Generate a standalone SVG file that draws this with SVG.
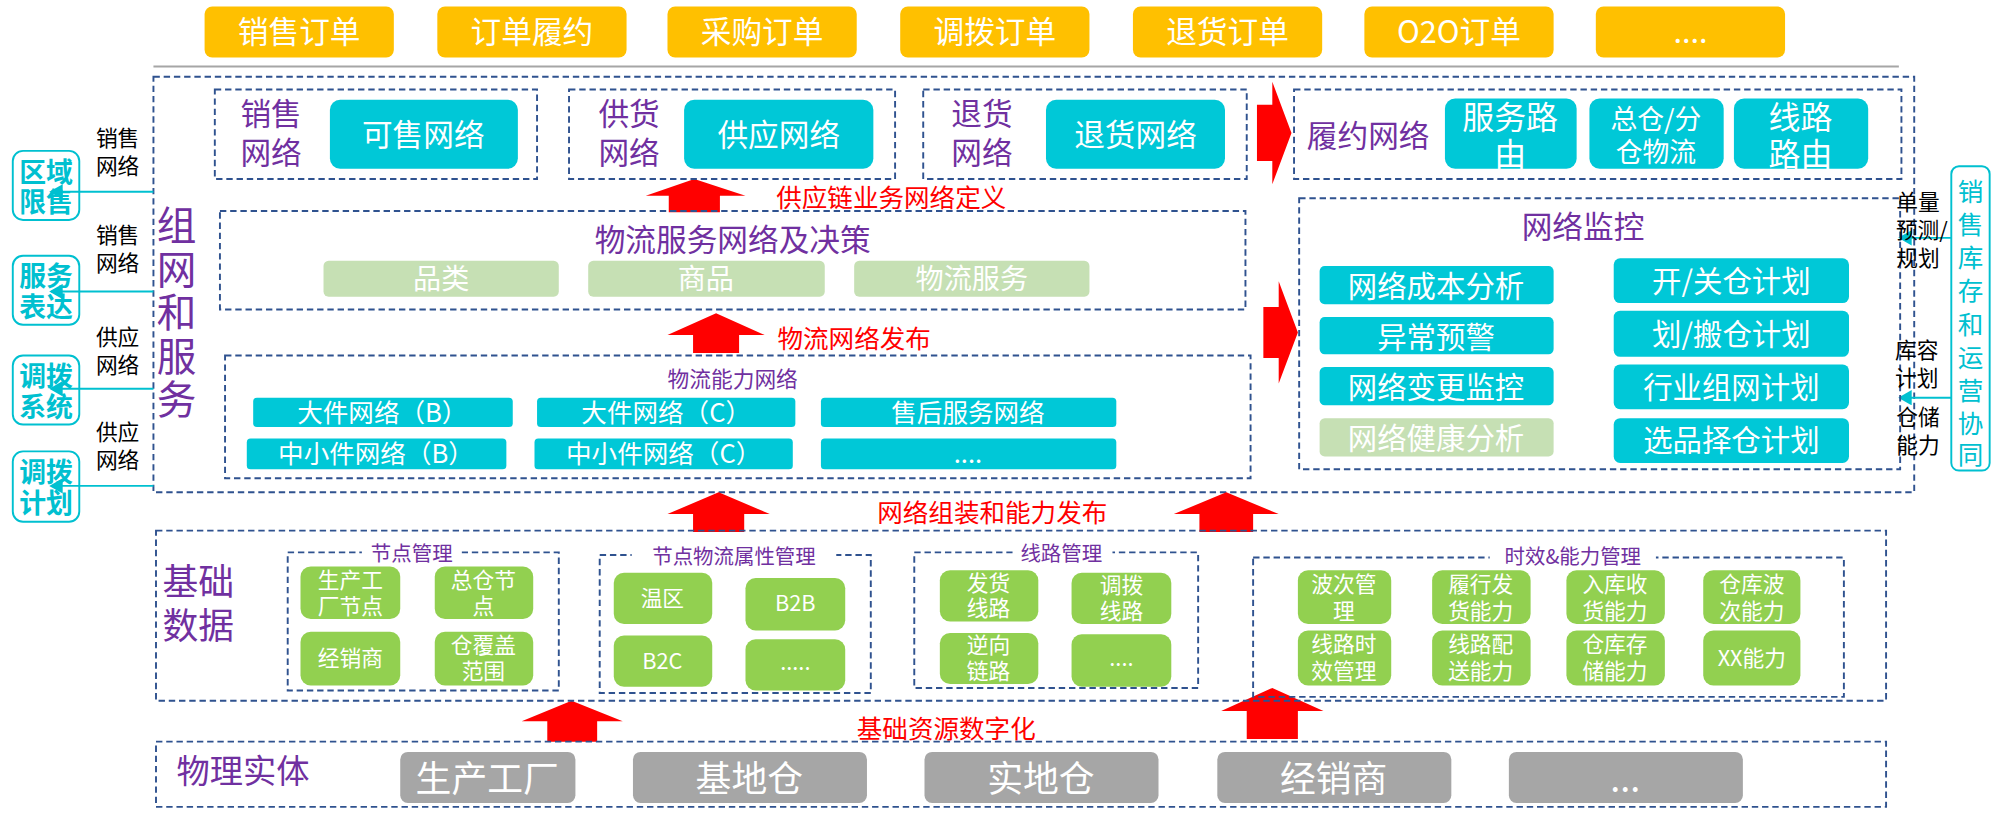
<svg xmlns="http://www.w3.org/2000/svg" width="2005" height="829" viewBox="0 0 2005 829">
<style>
text{font-family:"Noto Sans CJK SC","Liberation Sans",sans-serif;text-anchor:middle}
.d{fill:none;stroke:#2F528F;stroke-width:1.5;stroke-dasharray:5 3}
.o{fill:#FFC000}.c{fill:#00C8D7}.lg{fill:#C6E0B4}.g{fill:#92D050}.gr{fill:#A6A6A6}
.w{fill:#fff}.p{fill:#7030A0}.r{fill:#FF0000}.k{fill:#000}.cy{fill:#00C0D0;font-weight:bold}
.cv{fill:#00C0D0}
.ar{fill:#FF0000}
.cl{stroke:#00C0D0;stroke-width:1.5;fill:none}
</style>
<defs><marker id="m" markerWidth="8" markerHeight="8" refX="6" refY="4" orient="auto"><path d="M0,0L7,4L0,8z" fill="#00C0D0"/></marker></defs>
<g transform="scale(1.2787)">
<g id="orders" font-size="24">
<rect class="o" x="160" y="5" width="148" height="40" rx="6"/><text class="w" x="234" y="34">销售订单</text>
<rect class="o" x="342" y="5" width="148" height="40" rx="6"/><text class="w" x="416" y="34">订单履约</text>
<rect class="o" x="522" y="5" width="148" height="40" rx="6"/><text class="w" x="596" y="34">采购订单</text>
<rect class="o" x="704" y="5" width="148" height="40" rx="6"/><text class="w" x="778" y="34">调拨订单</text>
<rect class="o" x="886" y="5" width="148" height="40" rx="6"/><text class="w" x="960" y="34">退货订单</text>
<rect class="o" x="1067" y="5" width="148" height="40" rx="6"/><text class="w" x="1141" y="34">O2O订单</text>
<rect class="o" x="1248" y="5" width="148" height="40" rx="6"/><text class="w" x="1322" y="34">....</text>
</g>
<line x1="120" y1="52" x2="1485" y2="52" stroke="#A6A6A6" stroke-width="1.5"/>
<g id="zuwang">
<rect class="d" x="120" y="60" width="1377" height="325"/>
<g class="p" font-size="31"><text x="138" y="188">组</text><text x="138" y="222">网</text><text x="138" y="256">和</text><text x="138" y="290">服</text><text x="138" y="324">务</text></g>
</g>
<g id="left" font-size="17">
<g class="k"><text x="92" y="114">销售</text><text x="92" y="136">网络</text>
<text x="92" y="190">销售</text><text x="92" y="212">网络</text>
<text x="92" y="270">供应</text><text x="92" y="292">网络</text>
<text x="92" y="344">供应</text><text x="92" y="366">网络</text></g>
<g font-size="21">
<rect class="cl" x="10" y="118" width="52" height="54" rx="8"/><text class="cy" x="36" y="142">区域</text><text class="cy" x="36" y="166">限售</text>
<rect class="cl" x="10" y="200" width="52" height="54" rx="8"/><text class="cy" x="36" y="224">服务</text><text class="cy" x="36" y="248">表达</text>
<rect class="cl" x="10" y="278" width="52" height="54" rx="8"/><text class="cy" x="36" y="302">调拨</text><text class="cy" x="36" y="326">系统</text>
<rect class="cl" x="10" y="353" width="52" height="55" rx="8"/><text class="cy" x="36" y="377">调拨</text><text class="cy" x="36" y="401">计划</text>
</g>
</g>
<g id="connectors">
<line class="cl" x1="120" y1="150" x2="40" y2="150" marker-end="url(#m)"/>
<line class="cl" x1="120" y1="228" x2="40" y2="228" marker-end="url(#m)"/>
<line class="cl" x1="120" y1="304" x2="40" y2="304" marker-end="url(#m)"/>
<line class="cl" x1="120" y1="380" x2="40" y2="380" marker-end="url(#m)"/>
<line class="cl" x1="1526" y1="186" x2="1486" y2="186" marker-end="url(#m)"/>
<line class="cl" x1="1526" y1="311" x2="1486" y2="311" marker-end="url(#m)"/>
<polygon class="ar" points="983,82 995,82 995,64 1010,104 995,144 995,126 983,126"/>
<polygon class="ar" points="988,240 1000,240 1000,220 1015,260 1000,300 1000,280 988,280"/>
<polygon class="ar" points="505,153 543,140 583,153 563,153 563,166 523,166 523,153"/>
<polygon class="ar" points="522,262 560,245 598,262 578,262 578,276 542,276 542,262"/>
<polygon class="ar" points="522,402 562,385 602,402 582,402 582,416 542,416 542,402"/>
<polygon class="ar" points="918,402 959,385 1000,402 980,402 980,416 938,416 938,402"/>
<polygon class="ar" points="408,564 447,548 487,564 467,564 467,580 428,580 428,564"/>
<polygon class="ar" points="955,556 995,538 1035,556 1015,556 1015,578 975,578 975,556"/>
<g class="r" font-size="20"><text x="697" y="162">供应链业务网络定义</text><text x="668" y="272">物流网络发布</text><text x="776" y="408">网络组装和能力发布</text><text x="740" y="577">基础资源数字化</text></g>
</g>
<g id="sales" font-size="24">
<rect class="d" x="168" y="70" width="252" height="70"/>
<text class="p" x="212" y="98">销售</text><text class="p" x="212" y="128">网络</text>
<rect class="c" x="258" y="78" width="147" height="54" rx="8"/><text class="w" x="331" y="114">可售网络</text>
</g>
<g id="supply" font-size="24">
<rect class="d" x="445" y="70" width="255" height="70"/>
<text class="p" x="492" y="98">供货</text><text class="p" x="492" y="128">网络</text>
<rect class="c" x="535" y="78" width="148" height="54" rx="8"/><text class="w" x="609" y="114">供应网络</text>
</g>
<g id="return" font-size="24">
<rect class="d" x="722" y="70" width="253" height="70"/>
<text class="p" x="768" y="98">退货</text><text class="p" x="768" y="128">网络</text>
<rect class="c" x="818" y="78" width="140" height="54" rx="8"/><text class="w" x="888" y="114">退货网络</text>
</g>
<g id="lvyue">
<rect class="d" x="1012" y="70" width="475" height="70"/>
<text class="p" x="1070" y="115" font-size="24">履约网络</text>
<rect class="c" x="1130" y="77" width="103" height="55" rx="8"/><text class="w" x="1181" y="101" font-size="25">服务路</text><text class="w" x="1181" y="130" font-size="25">由</text>
<rect class="c" x="1243" y="77" width="105" height="55" rx="8"/><text class="w" x="1295" y="101" font-size="21">总仓/分</text><text class="w" x="1295" y="127" font-size="21">仓物流</text>
<rect class="c" x="1356" y="77" width="105" height="55" rx="8"/><text class="w" x="1408" y="101" font-size="25">线路</text><text class="w" x="1408" y="130" font-size="25">路由</text>
</g>
<g id="wuliufuwu">
<rect class="d" x="172" y="165" width="802" height="77"/>
<text class="p" x="573" y="196" font-size="24">物流服务网络及决策</text>
<rect class="lg" x="253" y="204" width="184" height="28" rx="4"/><text class="w" x="345" y="226" font-size="22">品类</text>
<rect class="lg" x="460" y="204" width="185" height="28" rx="4"/><text class="w" x="552" y="226" font-size="22">商品</text>
<rect class="lg" x="668" y="204" width="184" height="28" rx="4"/><text class="w" x="760" y="226" font-size="22">物流服务</text>
</g>
<g id="nengli" font-size="20">
<rect class="d" x="176" y="278" width="802" height="96"/>
<text class="p" x="573" y="303" font-size="17">物流能力网络</text>
<rect class="c" x="198" y="311" width="203" height="23" rx="3"/><text class="w" x="299" y="330">大件网络（B）</text>
<rect class="c" x="420" y="311" width="202" height="23" rx="3"/><text class="w" x="521" y="330">大件网络（C）</text>
<rect class="c" x="642" y="311" width="231" height="23" rx="3"/><text class="w" x="757" y="330">售后服务网络</text>
<rect class="c" x="193" y="343" width="203" height="24" rx="3"/><text class="w" x="294" y="362">中小件网络（B）</text>
<rect class="c" x="418" y="343" width="202" height="24" rx="3"/><text class="w" x="519" y="362">中小件网络（C）</text>
<rect class="c" x="642" y="343" width="231" height="24" rx="3"/><text class="w" x="757" y="362">....</text>
</g>
<g id="jiankong" font-size="23">
<rect class="d" x="1016" y="155" width="470" height="212"/>
<text class="p" x="1238" y="186" font-size="24">网络监控</text>
<rect class="c" x="1032" y="208" width="183" height="30" rx="4"/><text class="w" x="1123" y="232">网络成本分析</text>
<rect class="c" x="1032" y="248" width="183" height="29" rx="4"/><text class="w" x="1123" y="272">异常预警</text>
<rect class="c" x="1032" y="287" width="183" height="30" rx="4"/><text class="w" x="1123" y="311">网络变更监控</text>
<rect class="lg" x="1032" y="327" width="183" height="30" rx="4"/><text class="w" x="1123" y="351">网络健康分析</text>
<rect class="c" x="1262" y="202" width="184" height="35" rx="5"/><text class="w" x="1354" y="228">开/关仓计划</text>
<rect class="c" x="1262" y="243" width="184" height="36" rx="5"/><text class="w" x="1354" y="270">划/搬仓计划</text>
<rect class="c" x="1262" y="285" width="184" height="35" rx="5"/><text class="w" x="1354" y="311">行业组网计划</text>
<rect class="c" x="1262" y="327" width="184" height="35" rx="5"/><text class="w" x="1354" y="353">选品择仓计划</text>
</g>
<g id="right" font-size="17" class="k">
<text x="1500" y="164">单量</text><text x="1503" y="186">预测/</text><text x="1500" y="208">规划</text>
<text x="1499" y="280">库容</text><text x="1499" y="302">计划</text>
<text x="1500" y="332">仓储</text><text x="1500" y="354">能力</text>
<rect class="cl" x="1526" y="130" width="30" height="238" rx="6"/>
<g class="cv" font-size="20"><text x="1541" y="157">销</text><text x="1541" y="183">售</text><text x="1541" y="209">库</text><text x="1541" y="235">存</text><text x="1541" y="261">和</text><text x="1541" y="287">运</text><text x="1541" y="313">营</text><text x="1541" y="339">协</text><text x="1541" y="363">同</text></g>
</g>
<g id="jichu" font-size="17">
<rect class="d" x="122" y="415" width="1353" height="133"/>
<text class="p" x="155" y="465" font-size="28">基础</text><text class="p" x="155" y="500" font-size="28">数据</text>
<rect class="d" x="225" y="432" width="212" height="108"/><rect x="283" y="428" width="78" height="12" fill="#fff"/><text class="p" x="322" y="439" font-size="16">节点管理</text>
<rect class="g" x="235" y="443" width="78" height="41" rx="8"/><text class="w" x="274" y="460">生产工</text><text class="w" x="274" y="480">厂节点</text>
<rect class="g" x="340" y="443" width="77" height="41" rx="8"/><text class="w" x="378" y="460">总仓节</text><text class="w" x="378" y="480">点</text>
<rect class="g" x="235" y="494" width="78" height="42" rx="8"/><text class="w" x="274" y="521">经销商</text>
<rect class="g" x="340" y="494" width="77" height="42" rx="8"/><text class="w" x="378" y="511">仓覆盖</text><text class="w" x="378" y="531">范围</text>
<rect class="d" x="469" y="434" width="212" height="108"/><rect x="494" y="428" width="160" height="12" fill="#fff"/><text class="p" x="574" y="441" font-size="16">节点物流属性管理</text>
<rect class="g" x="480" y="448" width="77" height="40" rx="8"/><text class="w" x="518" y="474">温区</text>
<rect class="g" x="583" y="452" width="78" height="41" rx="8"/><text class="w" x="622" y="478">B2B</text>
<rect class="g" x="480" y="497" width="77" height="40" rx="8"/><text class="w" x="518" y="523">B2C</text>
<rect class="g" x="583" y="500" width="78" height="40" rx="8"/><text class="w" x="622" y="524">.....</text>
<rect class="d" x="715" y="432" width="222" height="106"/><rect x="792" y="426" width="78" height="12" fill="#fff"/><text class="p" x="830" y="439" font-size="16">线路管理</text>
<rect class="g" x="735" y="446" width="77" height="40" rx="8"/><text class="w" x="773" y="462">发货</text><text class="w" x="773" y="482">线路</text>
<rect class="g" x="838" y="448" width="78" height="40" rx="8"/><text class="w" x="877" y="464">调拨</text><text class="w" x="877" y="484">线路</text>
<rect class="g" x="735" y="495" width="77" height="40" rx="8"/><text class="w" x="773" y="511">逆向</text><text class="w" x="773" y="531">链路</text>
<rect class="g" x="838" y="496" width="78" height="41" rx="8"/><text class="w" x="877" y="521">....</text>
<rect class="d" x="980" y="436" width="462" height="109"/><rect x="1165" y="428" width="130" height="14" fill="#fff"/><text class="p" x="1230" y="441" font-size="16">时效&amp;能力管理</text>
<rect class="g" x="1015" y="446" width="73" height="42" rx="8"/><text class="w" x="1051" y="463">波次管</text><text class="w" x="1051" y="484">理</text>
<rect class="g" x="1120" y="446" width="77" height="42" rx="8"/><text class="w" x="1158" y="463">履行发</text><text class="w" x="1158" y="484">货能力</text>
<rect class="g" x="1225" y="446" width="77" height="42" rx="8"/><text class="w" x="1263" y="463">入库收</text><text class="w" x="1263" y="484">货能力</text>
<rect class="g" x="1332" y="446" width="76" height="42" rx="8"/><text class="w" x="1370" y="463">仓库波</text><text class="w" x="1370" y="484">次能力</text>
<rect class="g" x="1015" y="493" width="73" height="43" rx="8"/><text class="w" x="1051" y="510">线路时</text><text class="w" x="1051" y="531">效管理</text>
<rect class="g" x="1120" y="493" width="77" height="43" rx="8"/><text class="w" x="1158" y="510">线路配</text><text class="w" x="1158" y="531">送能力</text>
<rect class="g" x="1225" y="493" width="77" height="43" rx="8"/><text class="w" x="1263" y="510">仓库存</text><text class="w" x="1263" y="531">储能力</text>
<rect class="g" x="1332" y="493" width="76" height="43" rx="8"/><text class="w" x="1370" y="521">XX能力</text>
</g>
<g id="wuli" font-size="28">
<rect class="d" x="122" y="580" width="1353" height="51"/>
<text class="p" x="190" y="612" font-size="26">物理实体</text>
<rect class="gr" x="313" y="588" width="137" height="40" rx="6"/><text class="w" x="381" y="619">生产工厂</text>
<rect class="gr" x="495" y="588" width="183" height="40" rx="6"/><text class="w" x="586" y="619">基地仓</text>
<rect class="gr" x="723" y="588" width="183" height="40" rx="6"/><text class="w" x="814" y="619">实地仓</text>
<rect class="gr" x="952" y="588" width="183" height="40" rx="6"/><text class="w" x="1043" y="619">经销商</text>
<rect class="gr" x="1180" y="588" width="183" height="40" rx="6"/><text class="w" x="1271" y="619">...</text>
</g>
</g>
</svg>
